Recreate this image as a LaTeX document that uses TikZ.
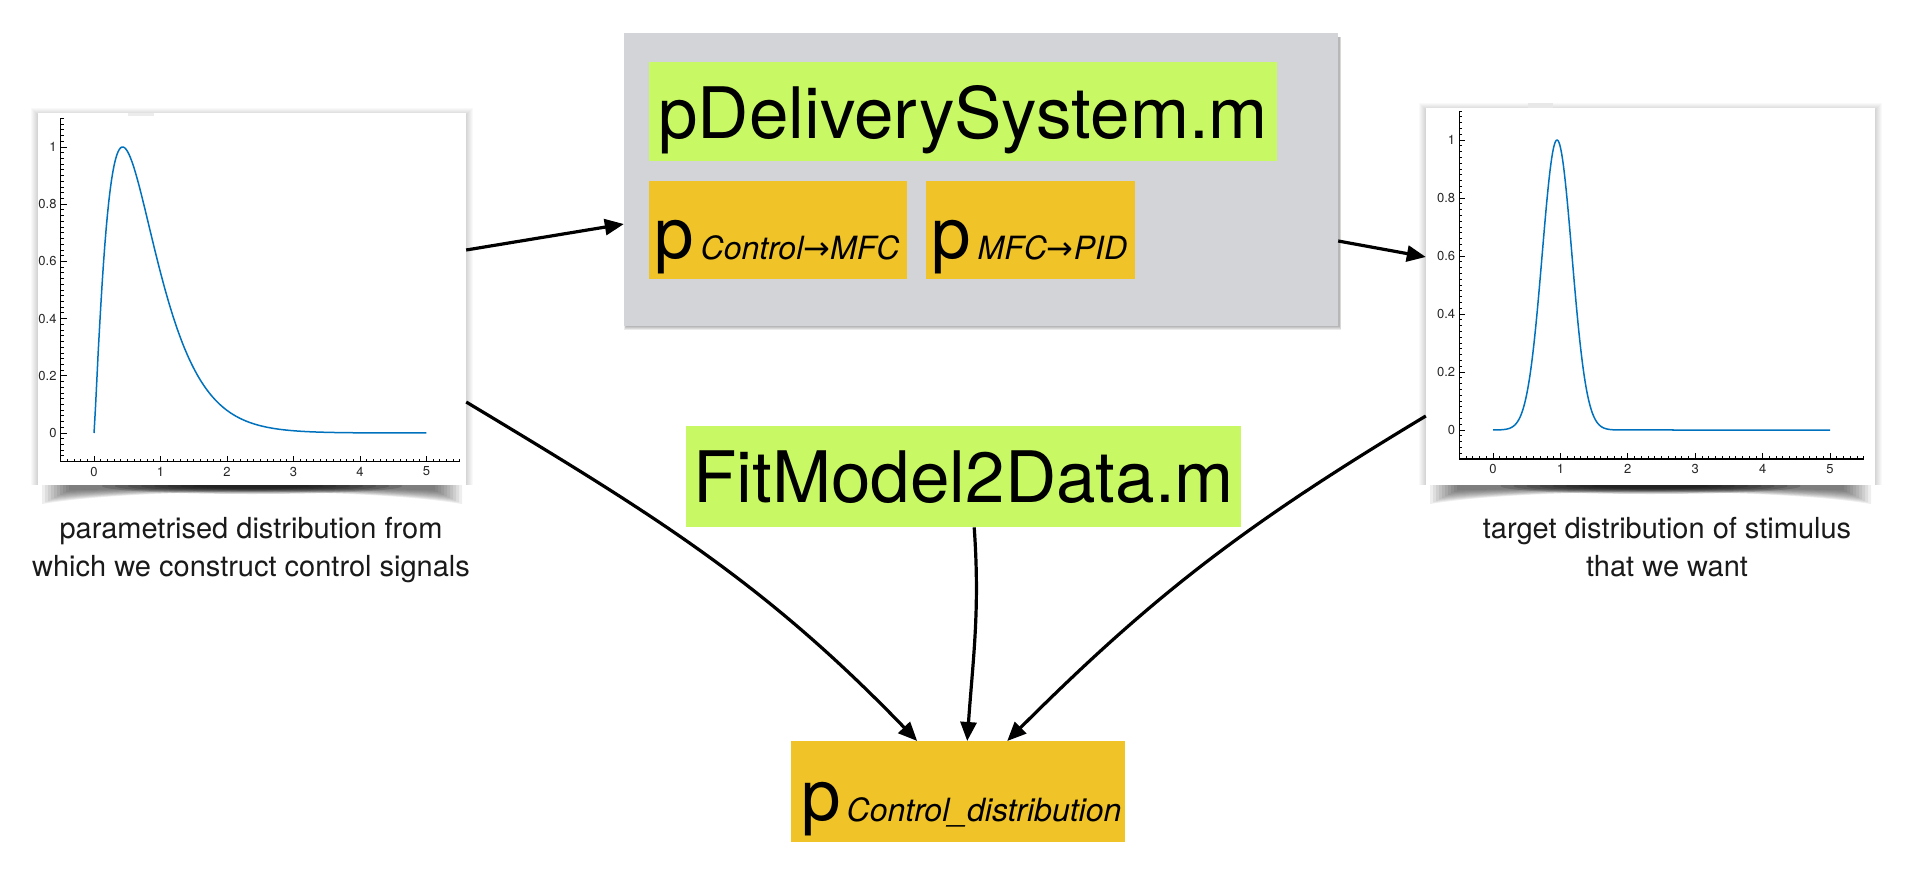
\documentclass[tikz,border=0pt]{standalone}
\usepackage{fontspec}
\setmainfont{TeX Gyre Heros}
\newfontfamily\djv{DejaVu Sans}
\usetikzlibrary{arrows.meta}
\definecolor{boxgray}{HTML}{D3D4D8}
\definecolor{lgreen}{HTML}{C8F864}
\definecolor{ochre}{HTML}{F0C328}
\definecolor{mblue}{HTML}{0072BD}
\definecolor{capcol}{HTML}{1A1A1A}
\newcommand\bigfont{\fontsize{71}{80}\selectfont}
\newcommand\subfont{\fontsize{32}{36}\selectfont\itshape}
\tikzset{
  conn/.style={line width=3.2pt,-{Triangle[length=19pt,width=16pt]}},
  plotframe/.style={fill=white,draw=none,inner sep=0pt},
  shadelayer/.style={fill=black,draw=none,opacity=#1},
  panel/.style={fill=boxgray,draw=none,inner sep=0pt},
  gbox/.style={fill=lgreen,draw=none,inner xsep=0pt,inner ysep=0pt,font=\bigfont,anchor=north west},
  obox/.style={fill=ochre,draw=none,inner ysep=0pt,anchor=north west},
  axisline/.style={line width=1.4pt,black},
  tickline/.style={line width=0.8pt,black},
  ticklab/.style={font=\fontsize{13}{14}\selectfont,inner sep=0pt,text=black!85},
  curve/.style={line width=1.5pt,mblue,line join=round},
  caption/.style={font=\fontsize{29}{38}\selectfont,align=center,text=capcol,inner sep=0pt},
}
\newcommand\myaxes[1]{%
  \draw[axisline] (-0.5,1.1) -- (-0.5,-0.1) -- (5.5,-0.1);
  \foreach \i in {0,...,60}{\draw[tickline] ({-0.5+0.1*\i},-0.1) -- ++(0pt,3pt);}
  \foreach \i in {0,...,60}{\draw[tickline] (-0.5,{-0.1+0.02*\i}) -- ++(3pt,0pt);}
  \foreach \i in {0,...,5}{\draw[tickline] (\i,-0.1) -- ++(0pt,6pt);
     \node[ticklab,anchor=north] (#1x\i) at ([yshift=-5pt]\i,-0.1) {\i};}
  \foreach \v/\t [count=\k] in {0/0,0.2/0.2,0.4/0.4,0.6/0.6,0.8/0.8,1/1}{\draw[tickline] (-0.5,\v) -- ++(6pt,0pt);
     \node[ticklab,anchor=east] (#1y\k) at ([xshift=-4pt]-0.5,\v) {\t};}
}
% soft shadow round a plot frame: left x, top y, right x, bottom y
\newcommand\plotshadow[4]{%
  \foreach \i in {1,...,7}{\fill[shadelayer=0.022] ({#1-\i},{#2-\i+2}) rectangle ({#3+\i},{#4});}
  \foreach \i in {0,...,9}{\fill[shadelayer=0.065] ({#1+4+3*\i},{#4-14}) -- ({#3-4-3*\i},{#4-14})
     -- ({#3-4-3*\i},{#4+19-1.5*\i}) .. controls ({#3-100},{#4+3}) and ({#1+100},{#4+3}) .. ({#1+4+3*\i},{#4+19-1.5*\i}) -- cycle;}
  \foreach \i in {0,...,7}{\fill[shadelayer=0.14] ({(#1+#3)/2},{#4+1}) ellipse [x radius={150-13*\i}, y radius={8-0.8*\i}];}
}
\begin{document}
\begin{tikzpicture}[x=1pt,y=-1pt]
\useasboundingbox (0,0) rectangle (1930,872);
\fill[white] (0,0) rectangle (1930,872);
% plot shadows and frames
\plotshadow{38}{113}{466}{485}
\plotshadow{1426}{108}{1875}{485}
\node[plotframe,minimum width=428pt,minimum height=372pt] (lplot) at (252,299) {};
\node[plotframe,minimum width=449pt,minimum height=377pt] (rplot) at (1650.5,296.5) {};
\fill[gray!15] (128,113) rectangle (154,116);
\fill[gray!18] (1528,103) rectangle (1553,108);
% left plot
\begin{scope}[shift={(94,433)},x=66.5pt,y=286pt]
  \myaxes{l}
  \draw[curve] (0,0) -- plot[domain=0.002:5,samples=250] (\x,{exp(1.2*(ln(\x/0.43)-\x/0.43+1))});
\end{scope}
% right plot
\begin{scope}[shift={(1493,430)},x=67.4pt,y=290pt]
  \myaxes{r}
  \draw[curve] plot[domain=0:2,samples=150] (\x,{exp(0-(\x-0.95)*(\x-0.95)/0.0968)}) -- (5,0);
\end{scope}
% central panel with a soft shadow
\foreach \i in {1,...,4}{\fill[shadelayer=0.08] ({624+2-\i*0.5},{33+4}) rectangle ({1338+1+\i*0.6},{326+\i});}
\node[panel,minimum width=714pt,minimum height=293pt] (panel) at (981,179.5) {};
\node[gbox,minimum width=628pt,text height=76pt,text depth=23pt] (pdel) at (649,62) {pDeliverySystem.m};
\node[obox,inner xsep=5pt,text height=77pt,text depth=21pt] (pcm) at (649,181)
  {\makebox[248pt][l]{\bigfont p\hspace{7pt}\subfont\raisebox{-1pt}{Control{\djv\upshape →}MFC}}};
\node[obox,inner xsep=5pt,text height=77pt,text depth=21pt] (pmp) at (926,181)
  {\makebox[199pt][l]{\bigfont p\hspace{7pt}\subfont\raisebox{-1pt}{MFC{\djv\upshape →}PID}}};
% fit model
\node[gbox,minimum width=555pt,text height=76pt,text depth=25pt] (fit) at (686,426) {FitModel2Data.m};
% control distribution
\node[obox,inner xsep=10pt,text height=79pt,text depth=22pt] (pcd) at (791,741)
  {\makebox[314pt][l]{\bigfont p\hspace{6pt}\subfont\raisebox{-1pt}{Control\_distribution}}};
% captions
\node[caption] (lcap) at (251,550.5) {parametrised distribution from\\which we construct control signals};
\node[caption] (rcap) at (1667,547.5) {target distribution of stimulus\\that we want};
% connectors
\draw[conn] ([yshift=49pt]lplot.east) -- ([yshift=-44.5pt]panel.west);
\draw[conn] ([yshift=-61.5pt]panel.east) -- ([yshift=39.5pt]rplot.west);
\draw[conn] ([yshift=-103pt]lplot.east) to[out=-31,in=134] ([xshift=-41pt]pcd.north);
\draw[conn] ([xshift=10.5pt]fit.south) to[out=-86,in=86] ([xshift=9pt]pcd.north);
\draw[conn] ([yshift=-119.5pt]rplot.west) to[out=-149,in=45] ([xshift=49pt]pcd.north);
\end{tikzpicture}
\end{document}
